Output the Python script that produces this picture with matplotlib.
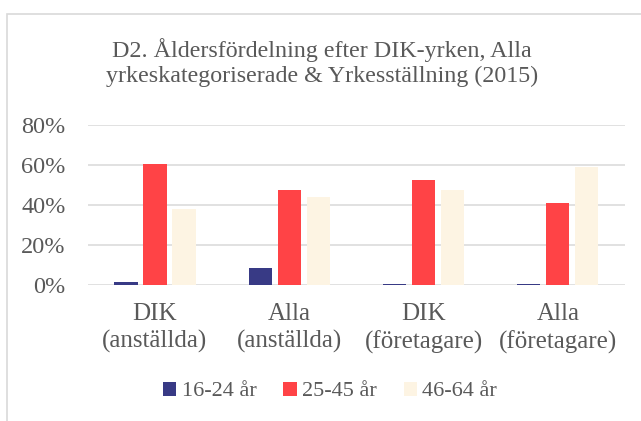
import numpy as np
import matplotlib.pyplot as plt
from matplotlib.patches import Rectangle
from matplotlib.ticker import FuncFormatter

categories = ['DIK\n(anställda)', 'Alla\n(anställda)', 'DIK\n(företagare)', 'Alla\n(företagare)']
series = ['16-24 år', '25-45 år', '46-64 år']
age_16_24 = [1.5, 8.7, 0.3, 0.4]
age_25_45 = [60.6, 47.4, 52.4, 40.8]
age_46_64 = [37.8, 43.8, 47.4, 58.9]
colors = ['#383a85', '#ff4346', '#fdf4e3']

plt.rcParams['font.family'] = ['Liberation Serif', 'DejaVu Serif']
txt = '#595959'

fig = plt.figure(figsize=(6.41, 4.21), dpi=100)
ax = fig.add_axes([0.137, 0.323, 0.838, 0.38])

# chart frame (only left and top edge visible in the crop)
fig.patches.append(Rectangle((7 / 641, -0.1), 1.2, 1 - 14 / 421 + 0.1,
                             transform=fig.transFigure, fill=False,
                             edgecolor='#d9d9d9', linewidth=1.2))

x = np.arange(len(categories))
w = 0.172
step = 0.216
for i, (vals, c, name) in enumerate(zip([age_16_24, age_25_45, age_46_64], colors, series)):
    ax.bar(x + (i - 1) * step, np.array(vals) / 100, width=w, color=c, label=name, zorder=3)

ax.set_xlim(-0.5, 3.5)
ax.set_ylim(0, 0.8)
ax.set_yticks(np.arange(0, 0.81, 0.2))
ax.yaxis.set_major_formatter(FuncFormatter(lambda v, p: f'{v * 100:.0f}%'))
ax.set_xticks(x)
ax.set_xticklabels(categories, linespacing=1.3)
ax.grid(axis='y', color='#d9d9d9', linewidth=1.1, zorder=0)
for s in ax.spines.values():
    s.set_visible(False)
ax.tick_params(length=0, labelsize=18, colors=txt, pad=13)
ax.tick_params(axis='y', labelsize=17.5, pad=16)

fig.text(0.502, 0.852, 'D2. Åldersfördelning efter DIK-yrken, Alla\nyrkeskategoriserade & Yrkesställning (2015)',
         ha='center', va='center', fontsize=17.3, color=txt, linespacing=1.25)

leg = fig.legend(loc='center', bbox_to_anchor=(0.515, 0.07), ncol=3, frameon=False,
                 fontsize=16, handlelength=0.6, handleheight=0.6, handletextpad=0.25,
                 columnspacing=1.2)
for t in leg.get_texts():
    t.set_color(txt)

fig.savefig('out.png', dpi=100)
